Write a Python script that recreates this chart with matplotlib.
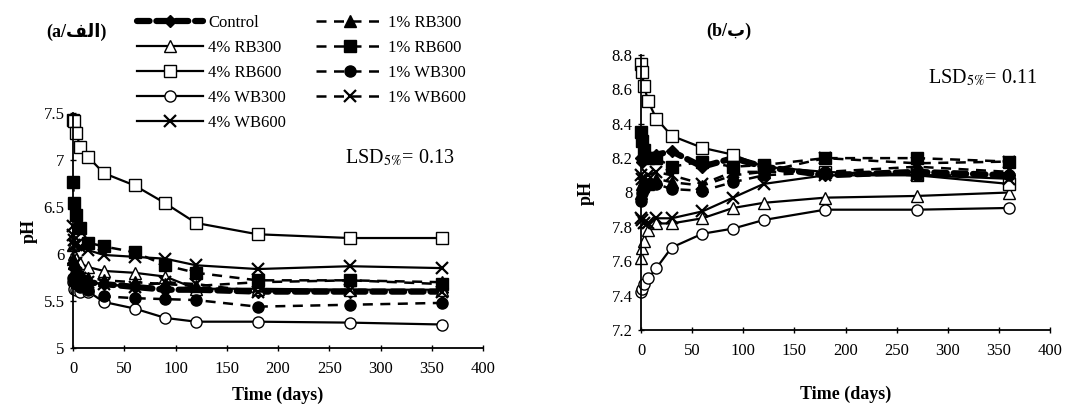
import matplotlib
matplotlib.use('Agg')
import matplotlib.pyplot as plt
from matplotlib.ticker import FuncFormatter, MultipleLocator

plt.rcParams['font.family'] = ['Liberation Serif', 'DejaVu Sans']
plt.rcParams['mathtext.fontset'] = 'stix'

days = [0, 1, 3, 7, 15, 30, 60, 90, 120, 180, 270, 360]

series_names = ['Control', '4% RB300', '4% RB600', '4% WB300', '4% WB600',
                '1% RB300', '1% RB600', '1% WB300', '1% WB600']

# Panel (a) pH values
a_control = [5.90, 5.85, 5.80, 5.75, 5.70, 5.68, 5.65, 5.62, 5.62, 5.60, 5.60, 5.60]
a_4rb300 = [6.10, 6.00, 5.95, 5.90, 5.86, 5.82, 5.80, 5.76, 5.63, 5.63, 5.62, 5.62]
a_4rb600 = [7.43, 7.42, 7.29, 7.14, 7.03, 6.86, 6.73, 6.54, 6.33, 6.21, 6.17, 6.17]
a_4wb300 = [5.70, 5.63, 5.62, 5.60, 5.60, 5.49, 5.42, 5.32, 5.28, 5.28, 5.27, 5.25]
a_4wb600 = [6.20, 6.15, 6.10, 6.07, 6.04, 5.99, 5.97, 5.95, 5.88, 5.84, 5.87, 5.85]
a_1rb300 = [5.95, 5.90, 5.85, 5.80, 5.75, 5.72, 5.70, 5.68, 5.66, 5.70, 5.72, 5.70]
a_1rb600 = [6.77, 6.54, 6.41, 6.28, 6.12, 6.08, 6.02, 5.88, 5.80, 5.72, 5.72, 5.68]
a_1wb300 = [5.75, 5.70, 5.68, 5.65, 5.62, 5.55, 5.53, 5.52, 5.51, 5.44, 5.46, 5.48]
a_1wb600 = [6.30, 6.10, 5.90, 5.75, 5.70, 5.68, 5.65, 5.70, 5.68, 5.60, 5.62, 5.60]

# Panel (b) pH values
b_control = [8.20, 8.18, 8.22, 8.20, 8.22, 8.24, 8.15, 8.20, 8.15, 8.10, 8.12, 8.10]
b_4rb300 = [7.62, 7.68, 7.72, 7.78, 7.82, 7.82, 7.85, 7.91, 7.94, 7.97, 7.98, 8.00]
b_4rb600 = [8.75, 8.70, 8.62, 8.53, 8.43, 8.33, 8.26, 8.22, 8.15, 8.12, 8.10, 8.05]
b_4wb300 = [7.42, 7.44, 7.47, 7.50, 7.56, 7.68, 7.76, 7.79, 7.84, 7.90, 7.90, 7.91]
b_4wb600 = [7.85, 7.84, 7.82, 7.82, 7.85, 7.85, 7.89, 7.97, 8.05, 8.10, 8.10, 8.08]
b_1rb300 = [8.00, 8.05, 8.07, 8.05, 8.08, 8.06, 8.04, 8.10, 8.12, 8.12, 8.15, 8.12]
b_1rb600 = [8.35, 8.30, 8.25, 8.20, 8.20, 8.15, 8.18, 8.15, 8.16, 8.20, 8.20, 8.18]
b_1wb300 = [7.95, 8.00, 8.02, 8.05, 8.05, 8.02, 8.01, 8.06, 8.10, 8.12, 8.10, 8.10]
b_1wb600 = [8.10, 8.08, 8.05, 8.10, 8.12, 8.10, 8.05, 8.12, 8.12, 8.20, 8.17, 8.18]

a_data = [a_control, a_4rb300, a_4rb600, a_4wb300, a_4wb600,
          a_1rb300, a_1rb600, a_1wb300, a_1wb600]
b_data = [b_control, b_4rb300, b_4rb600, b_4wb300, b_4wb600,
          b_1rb300, b_1rb600, b_1wb300, b_1wb600]

styles = [
    dict(ls=(0, (2.0, 1.1)), lw=4.5, marker='D', mfc='black', ms=6, dash_capstyle='round'),
    dict(ls='-', lw=1.6, marker='^', mfc='white', ms=8),
    dict(ls='-', lw=1.6, marker='s', mfc='white', ms=8),
    dict(ls='-', lw=1.6, marker='o', mfc='white', ms=8),
    dict(ls='-', lw=1.6, marker='x', mfc='white', ms=8, mew=1.6),
    dict(ls=(0, (4, 3)), lw=1.8, marker='^', mfc='black', ms=8),
    dict(ls=(0, (4, 3)), lw=1.8, marker='s', mfc='black', ms=8),
    dict(ls=(0, (4, 3)), lw=1.8, marker='o', mfc='black', ms=8),
    dict(ls=(0, (4, 3)), lw=1.8, marker='x', mfc='black', ms=8, mew=1.6),
]

W, H = 1077, 405
fig = plt.figure(figsize=(W / 100, H / 100), dpi=100)

axA = fig.add_axes([73 / W, 1 - 348 / H, 410 / W, 235 / H])
axB = fig.add_axes([641 / W, 1 - 330 / H, 409 / W, 275 / H])

fmt = FuncFormatter(lambda v, p: '%g' % v)
handles = []
for ax, data in ((axA, a_data), (axB, b_data)):
    for name, vals, st in zip(series_names, data, styles):
        st = dict(st)
        ls = st.pop('ls')
        h, = ax.plot(days, vals, color='black', linestyle=ls, mec='black',
                     label=name, clip_on=False, **st)
        if ax is axA:
            handles.append(h)
    ax.set_xlim(0, 400)
    ax.xaxis.set_major_locator(MultipleLocator(50))
    ax.yaxis.set_major_formatter(fmt)
    for s in ('top', 'right'):
        ax.spines[s].set_visible(False)
    ax.spines['left'].set_linewidth(1.3)
    ax.spines['bottom'].set_linewidth(1.3)
    ax.tick_params(axis='both', labelsize=12, direction='inout', length=5, width=1)
    ax.tick_params(axis='x', pad=7)

axA.set_ylim(5, 7.5)
axA.yaxis.set_major_locator(MultipleLocator(0.5))
axB.set_ylim(7.2, 8.8)
axB.yaxis.set_major_locator(MultipleLocator(0.2))
axA.set_xlabel('Time (days)', fontsize=13, fontweight='bold', labelpad=7)
axB.set_xlabel('Time (days)', fontsize=13, fontweight='bold', labelpad=19)
axA.set_ylabel('pH', fontsize=13, fontweight='bold', labelpad=4)
axB.set_ylabel('pH', fontsize=13, fontweight='bold', labelpad=12)

axA.text(0.93, 0.81, r'LSD$_{5\%}$= 0.13', transform=axA.transAxes,
         ha='right', va='center', fontsize=14.5)
axB.text(0.97, 0.915, r'LSD$_{5\%}$= 0.11', transform=axB.transAxes,
         ha='right', va='center', fontsize=14.5)

# Panel labels (Arabic in visual order with presentation forms)
alef_feh = '\uFED2\uFEDF\uFE8D'
beh = '\uFE8F'
fig.text(76 / W, 1 - 32 / H, '(a/' + alef_feh + ')', ha='center', va='center',
         fontsize=13, fontweight='bold', family=['Liberation Serif', 'DejaVu Sans'])
fig.text(729 / W, 1 - 31 / H, '(b/' + beh + ')', ha='center', va='center',
         fontsize=13, fontweight='bold', family=['Liberation Serif', 'DejaVu Sans'])

fig.legend(handles=handles, loc='upper left', bbox_to_anchor=(125 / W, 1 - 3 / H),
           ncol=2, frameon=False, fontsize=12, handlelength=4.0,
           columnspacing=1.8, labelspacing=0.54, handletextpad=0.3, borderpad=0.2)

fig.savefig('out.png', dpi=100)
